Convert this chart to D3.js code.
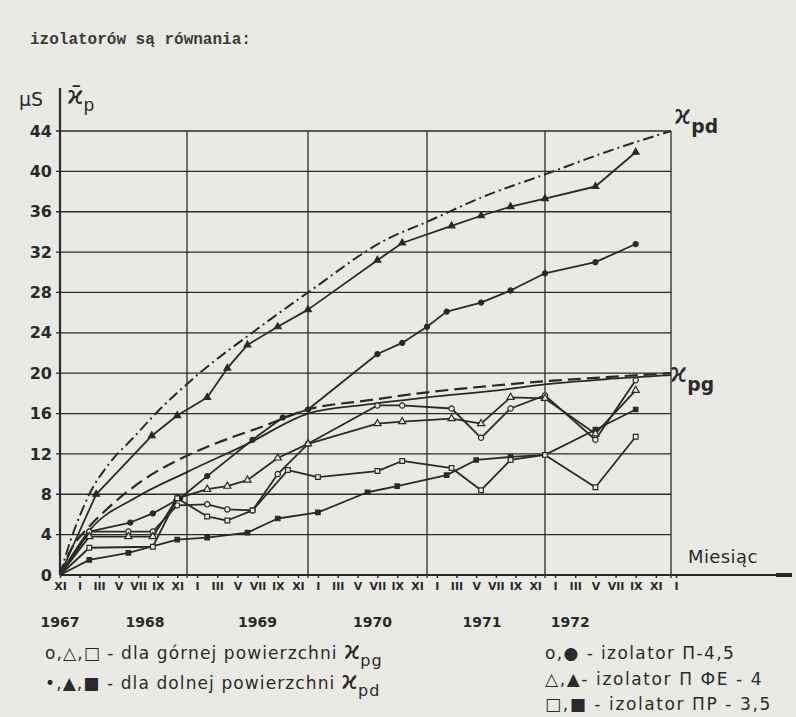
<!DOCTYPE html>
<html>
<head>
<meta charset="utf-8">
<script src="https://cdn.jsdelivr.net/npm/d3@7"></script>
<style>
  body { margin: 0; background: #eaeae4; }
  svg { display: block; }
  text { font-family: "DejaVu Sans", sans-serif; fill: #2a2a2a; }
</style>
</head>
<body>
<script>
// month index: 0 = XI 1967, 2 = I 1968, ... 62 = I 1973
const yTicks = [0, 4, 8, 12, 16, 20, 24, 28, 32, 36, 40, 44];
const monthCycle = ["XI", "I", "III", "V", "VII", "IX"];
const tickMonths = d3.range(0, 63, 2);
const years = ["1967", "1968", "1969", "1970", "1971", "1972"];
const yearAt = [0, 8.7, 20, 31.5, 42.6, 51.5];
const yearBreaks = [13, 25, 37, 49];

// theoretical curves
const kpd = [[0,0],[1,3.2],[2,5.8],[3,8],[5,11],[7.5,13.6],[10,16.2],[14,19.8],[20,24.4],[25,28],[33,33.3],[37,35],[43,37.6],[49,39.7],[55,41.9],[61.5,44]];
const kpg = [[0,0],[1,2.3],[3,4.8],[5,6.7],[8.5,9.4],[12.5,11.6],[15,12.7],[21,14.9],[25,16.4],[31,17.3],[37,18.1],[43,18.7],[49,19.2],[55,19.6],[61.5,20]];
const plain = [[0,0],[3,4.4],[8,7.8],[13,10.2],[19,13],[25,16],[31,16.9],[37,17.6],[45,18.4],[49,18.9],[55,19.4],[61.5,19.8]];

// measured, lower surface (filled)
const triFilled = [[0,0],[3.7,8],[9.4,13.8],[12,15.8],[15,17.6],[17,20.5],[19,22.8],[22,24.6],[25,26.3],[32,31.2],[34.5,32.9],[39.5,34.6],[42.5,35.6],[45.5,36.5],[49,37.3],[54,38.5],[58,41.9]];
const circFilled = [[0,0],[3,4.3],[7.2,5.2],[9.5,6.1],[12.3,7.6],[15,9.8],[19.5,13.4],[22.5,15.6],[25,16.4],[32,21.9],[34.5,23],[37,24.6],[39,26.1],[42.5,27],[45.5,28.2],[49,29.9],[54,31],[58,32.8]];
const sqFilled = [[0,0],[3,1.5],[7,2.2],[12,3.5],[15,3.7],[19,4.2],[22,5.6],[26,6.2],[31,8.2],[34,8.8],[39,9.9],[42,11.4],[45.5,11.7],[49,11.9],[54,14.4],[58,16.4]];
// measured, upper surface (open)
const circOpen = [[0,0],[3,4.3],[7,4.3],[9.5,4.3],[12,6.9],[15,7],[17,6.5],[19.5,6.4],[22,10],[25,13],[32,16.8],[34.5,16.8],[39.5,16.5],[42.5,13.6],[45.5,16.5],[49,17.8],[54,13.4],[58,19.3]];
const triOpen = [[0,0],[3,3.8],[7,3.8],[9.5,3.8],[12,7.6],[15,8.5],[17,8.8],[19,9.4],[22,11.6],[25,13],[32,15],[34.5,15.2],[39.5,15.5],[42.5,15],[45.5,17.6],[49,17.5],[54,14],[58,18.3]];
const sqOpen = [[0,0],[3,2.7],[9.5,2.8],[12,7.6],[15,5.8],[17,5.4],[19.5,6.4],[23,10.4],[26,9.7],[32,10.3],[34.5,11.3],[39.5,10.6],[42.5,8.4],[45.5,11.4],[49,11.9],[54,8.7],[58,13.7]];

const width = 796, height = 717;
const ink = "#2a2a2a", paper = "#eaeae4";

const x = d3.scaleLinear()
  .domain([0, 13, 25, 37, 49, 61.5])
  .range([60, 187, 308, 427, 545, 671]);
const y = d3.scaleLinear().domain([0, 44]).range([575, 131]);

const svg = d3.select("body").append("svg")
  .attr("width", width).attr("height", height);

// page text above the figure
svg.append("text").attr("x", 30).attr("y", 44)
  .style("font-family", "'Liberation Mono', monospace").style("font-weight", "bold")
  .style("font-size", "16px").style("fill", "#3a3a3a")
  .text("izolatorów są równania:");

// grid
const grid = svg.append("g").attr("stroke", ink).attr("stroke-width", 1.3);
grid.selectAll("line.h").data(yTicks.slice(1)).join("line")
  .attr("x1", x(0) - 4).attr("x2", x(61.5))
  .attr("y1", d => y(d)).attr("y2", d => y(d));
grid.selectAll("line.v").data(yearBreaks.concat([61.5])).join("line")
  .attr("x1", d => x(d)).attr("x2", d => x(d))
  .attr("y1", y(44)).attr("y2", y(0) + 3);

// axes
svg.append("line").attr("stroke", ink).attr("stroke-width", 2.2)
  .attr("x1", x(0)).attr("x2", x(0)).attr("y1", y(0)).attr("y2", 88);
svg.append("line").attr("stroke", ink).attr("stroke-width", 2.2)
  .attr("x1", x(0)).attr("x2", 792).attr("y1", y(0)).attr("y2", y(0));
svg.append("line").attr("stroke", ink).attr("stroke-width", 4)
  .attr("x1", 776).attr("x2", 792).attr("y1", y(0)).attr("y2", y(0));

svg.append("g")
  .attr("transform", `translate(${x(0)},0)`)
  .call(d3.axisLeft(y).tickValues(yTicks).tickSize(0).tickPadding(8))
  .call(g => g.select(".domain").remove())
  .call(g => g.selectAll("text")
    .attr("font-size", 16).attr("font-weight", "bold").attr("fill", ink));

svg.append("g")
  .attr("transform", `translate(0,${y(0)})`)
  .call(d3.axisBottom(x).tickValues(tickMonths).tickSize(3).tickPadding(4)
    .tickFormat(m => monthCycle[(m / 2) % 6]))
  .call(g => g.select(".domain").remove())
  .call(g => g.selectAll("line").attr("stroke", ink).attr("stroke-width", 1.5))
  .call(g => g.selectAll("text")
    .attr("font-size", 11).attr("font-weight", "bold").attr("fill", ink));

svg.append("g").selectAll("text").data(years).join("text")
  .attr("x", (d, i) => x(yearAt[i]))
  .attr("y", 627)
  .attr("text-anchor", "middle")
  .attr("font-size", 14).attr("font-weight", "bold")
  .text(d => d);

// curves
const line = d3.line().x(d => x(d[0])).y(d => y(d[1]));
const smooth = d3.line().x(d => x(d[0])).y(d => y(d[1])).curve(d3.curveMonotoneX);

svg.append("path").datum(kpd).attr("d", smooth)
  .attr("fill", "none").attr("stroke", ink).attr("stroke-width", 2)
  .attr("stroke-dasharray", "11,4,2,4");
svg.append("path").datum(kpg).attr("d", smooth)
  .attr("fill", "none").attr("stroke", ink).attr("stroke-width", 2.2)
  .attr("stroke-dasharray", "13,6");
svg.append("path").datum(plain).attr("d", smooth)
  .attr("fill", "none").attr("stroke", ink).attr("stroke-width", 1.8);

const series = [
  {data: triFilled, type: d3.symbolTriangle, open: false},
  {data: circFilled, type: d3.symbolCircle, open: false},
  {data: sqFilled, type: d3.symbolSquare, open: false},
  {data: circOpen, type: d3.symbolCircle, open: true},
  {data: triOpen, type: d3.symbolTriangle, open: true},
  {data: sqOpen, type: d3.symbolSquare, open: true}
];

series.forEach(s => {
  svg.append("path").datum(s.data).attr("d", line)
    .attr("fill", "none").attr("stroke", ink).attr("stroke-width", 1.8)
    .attr("stroke-linejoin", "round");
  svg.append("g").selectAll("path").data(s.data.slice(1)).join("path")
    .attr("transform", d => `translate(${x(d[0])},${y(d[1])})`)
    .attr("d", d3.symbol().type(s.type).size(s.open ? 22 : 20))
    .attr("fill", s.open ? paper : ink)
    .attr("stroke", ink).attr("stroke-width", 1.2);
});

// curve labels
function kappa(xp, yp, sub, size) {
  const t = svg.append("text").attr("x", xp).attr("y", yp).attr("font-size", size);
  t.append("tspan").text("ϰ");
  t.append("tspan").attr("dy", size * 0.35).attr("font-size", size * 0.72)
    .attr("font-weight", "bold").text(sub);
  return t;
}
kappa(674, 124, "pd", 26);
kappa(670, 382, "pg", 26);

// axis titles
svg.append("text").attr("x", 19).attr("y", 106).attr("font-size", 19).text("μS");
const yt = svg.append("text").attr("x", 67).attr("y", 104).attr("font-size", 25);
yt.append("tspan").text("ϰ̄");
yt.append("tspan").attr("dy", 7).attr("font-size", 17).text("p");
svg.append("text").attr("x", 688).attr("y", 563).attr("font-size", 18)
  .attr("letter-spacing", 0.4).text("Miesiąc");

// legend
function legendLine(xp, yp, txt, sub, spacing) {
  const t = svg.append("text").attr("x", xp).attr("y", yp).attr("font-size", 17)
    .attr("letter-spacing", spacing);
  t.append("tspan").text(txt);
  if (sub) {
    t.append("tspan").attr("font-size", 25).attr("dx", 6).attr("letter-spacing", 0).text("ϰ");
    t.append("tspan").attr("dy", 7).attr("font-size", 16).text(sub);
  }
}
legendLine(45, 659, "o,△,□ - dla górnej powierzchni", "pg", 1.1);
legendLine(45, 689, "•,▲,■ - dla dolnej powierzchni", "pd", 1.1);
legendLine(545, 659, "o,● - izolator П-4,5", null, 1.4);
legendLine(545, 685, "△,▲- izolator П ФЕ - 4", null, 1.6);
legendLine(545, 710, "□,■ - izolator ПР - 3,5", null, 1.6);
</script>
</body>
</html>
